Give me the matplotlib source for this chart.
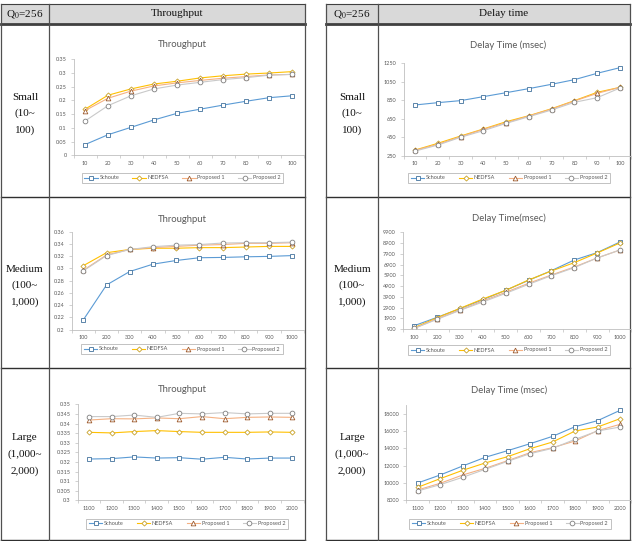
import numpy as np
import matplotlib
matplotlib.use('Agg')
from matplotlib import pyplot as plt
from matplotlib.patches import Rectangle
from matplotlib.ticker import FuncFormatter

plt.rcParams['mathtext.fontset'] = 'stix'

# ---- data ----
series_names = ['Schoute', 'NEDFSA', 'Proposed 1', 'Proposed 2']

small_x = [10, 20, 30, 40, 50, 60, 70, 80, 90, 100]
medium_x = [100, 200, 300, 400, 500, 600, 700, 800, 900, 1000]
large_x = [1100, 1200, 1300, 1400, 1500, 1600, 1700, 1800, 1900, 2000]

small_tp_schoute = [0.039, 0.075, 0.102, 0.129, 0.153, 0.168, 0.183, 0.197, 0.210, 0.217]
small_tp_nedfsa = [0.168, 0.219, 0.242, 0.260, 0.270, 0.282, 0.290, 0.296, 0.300, 0.305]
small_tp_prop1 = [0.163, 0.208, 0.234, 0.253, 0.264, 0.273, 0.281, 0.287, 0.293, 0.295]
small_tp_prop2 = [0.125, 0.181, 0.217, 0.242, 0.256, 0.266, 0.276, 0.283, 0.292, 0.295]

small_dt_schoute = [799, 824, 846, 889, 932, 976, 1023, 1073, 1142, 1203]
small_dt_nedfsa = [311, 384, 463, 539, 618, 683, 759, 846, 936, 990]
small_dt_prop1 = [308, 373, 456, 535, 607, 680, 755, 842, 925, 990]
small_dt_prop2 = [300, 365, 449, 521, 600, 672, 745, 828, 878, 983]

medium_tp_schoute = [0.216, 0.273, 0.295, 0.307, 0.313, 0.3175, 0.318, 0.319, 0.3197, 0.321]
medium_tp_nedfsa = [0.3045, 0.3257, 0.331, 0.333, 0.333, 0.334, 0.334, 0.335, 0.336, 0.336]
medium_tp_prop1 = [0.297, 0.322, 0.331, 0.334, 0.336, 0.338, 0.339, 0.341, 0.341, 0.342]
medium_tp_prop2 = [0.296, 0.321, 0.331, 0.3355, 0.338, 0.339, 0.3415, 0.342, 0.342, 0.343]

medium_dt_schoute = [1210, 1986, 2793, 3631, 4500, 5431, 6331, 7324, 8007, 9000]
medium_dt_nedfsa = [1024, 1955, 2824, 3693, 4500, 5462, 6300, 7076, 7976, 8907]
medium_dt_prop1 = [962, 1862, 2669, 3507, 4314, 5152, 5928, 6672, 7510, 8255]
medium_dt_prop2 = [962, 1800, 2638, 3414, 4221, 5059, 5866, 6610, 7510, 8255]

large_tp_schoute = [0.3215, 0.3217, 0.3226, 0.3220, 0.3222, 0.3214, 0.3224, 0.3215, 0.3220, 0.3220]
large_tp_nedfsa = [0.3354, 0.3351, 0.3358, 0.3363, 0.3358, 0.3354, 0.3354, 0.3354, 0.3356, 0.3354]
large_tp_prop1 = [0.3418, 0.3425, 0.3424, 0.3429, 0.3425, 0.3436, 0.3425, 0.3432, 0.3434, 0.3432]
large_tp_prop2 = [0.3436, 0.3436, 0.3444, 0.3432, 0.3453, 0.3450, 0.3457, 0.3450, 0.3453, 0.3453]

large_dt_schoute = [10000, 10923, 11962, 12962, 13731, 14538, 15385, 16500, 17192, 18385]
large_dt_nedfsa = [9500, 10500, 11462, 12308, 13038, 13962, 14731, 16000, 16462, 17423]
large_dt_prop1 = [9192, 9962, 10923, 11692, 12577, 13500, 14077, 14846, 16038, 16769]
large_dt_prop2 = [9077, 9808, 10654, 11577, 12500, 13385, 14000, 15038, 16000, 16462]

# ---- styles ----
line_colors = ['#5B9BD5', '#FFC000', '#F4B183', '#C9C9C9']
edge_colors = ['#41719C', '#C9A227', '#9E5B2E', '#7F7F7F']
markers = ['s', 'D', '^', 'o']
msizes = [3.2, 2.6, 3.4, 3.4]
gray_txt = '#595959'
chart_font = 'Lato'
serif = 'Liberation Serif'

W, H = 632, 541
fig = plt.figure(figsize=(W / 100, H / 100), dpi=100)

# ---- table background ----
bg = fig.add_axes([0, 0, 1, 1])
bg.set_xlim(0, W)
bg.set_ylim(H, 0)
bg.axis('off')

row_top, head_bot = 4, 23.5
row_lines = [197, 368, 540]
for (tl, tdiv, tr) in [(1, 49, 305), (326, 378, 630)]:
    bg.add_patch(Rectangle((tl, row_top), tr - tl, head_bot - row_top,
                           facecolor='#D9D9D9', edgecolor='none'))
    bg.plot([tl, tr], [row_top, row_top], color='#404040', lw=0.8)
    bg.plot([tl, tr], [head_bot, head_bot], color='#404040', lw=2.0)
    for y in row_lines:
        bg.plot([tl, tr], [y, y], color='#303030', lw=1.0)
    for x in (tl, tdiv, tr):
        bg.plot([x, x], [row_top, row_lines[-1]], color='#505050', lw=0.9)

    cx = (tl + tdiv) / 2
    bg.text(cx, 14, r'Q$_0$=256', ha='center', va='center',
            fontsize=8, family=serif, color='#111111')
    row_labels = [('Small', '(10~', '100)', 97),
                  ('Medium', '(100~', '1,000)', 269),
                  ('Large', '(1,000~', '2,000)', 438)]
    for a, b, c, y0 in row_labels:
        for k, s in enumerate((a, b, c)):
            bg.text(cx, y0 + 16.5 * k, s, ha='center', va='center',
                    fontsize=8, family=serif, color='#111111')

bg.text((49 + 305) / 2, 14, 'Throughput', ha='center', va='center',
        fontsize=8, family=serif, color='#111111')
bg.text((378 + 630) / 2, 14, 'Delay time', ha='center', va='center',
        fontsize=8, family=serif, color='#111111')


def draw_chart(x_labels, ys, title, yticks, px, title_pos, leg_pos, ymax=None):
    # px: pixel x of first / last category, pixel y of top / bottom tick
    x0, x9, ytop, ybot = px
    if ymax is None:
        ymax = yticks[-1]
    ytop = ybot - (ymax - yticks[0]) / (yticks[-1] - yticks[0]) * (ybot - ytop)
    s = (x9 - x0) / (len(x_labels) - 1)
    left, right = x0 - s / 2, x9 + s / 2
    ax = fig.add_axes([left / W, 1 - ybot / H, (right - left) / W, (ybot - ytop) / H])
    ax.set_facecolor('none')
    idx = np.arange(len(x_labels))
    handles = []
    for k, y in enumerate(ys):
        h, = ax.plot(idx, y, color=line_colors[k], lw=0.8, marker=markers[k],
                     ms=msizes[k], mfc='white', mec=edge_colors[k], mew=0.6)
        handles.append(h)
    ax.set_xlim(-0.5, len(x_labels) - 0.5)
    ax.set_ylim(yticks[0], ymax)
    ax.set_xticks(idx)
    ax.set_xticklabels([str(v) for v in x_labels])
    ax.set_xticks(np.arange(-0.5, len(x_labels), 1), minor=True)
    ax.set_yticks(yticks)
    ax.yaxis.set_major_formatter(FuncFormatter(lambda v, p: f'{v:g}'))
    ax.tick_params(axis='x', which='major', length=0, pad=4)
    ax.tick_params(axis='x', which='minor', length=2, width=0.5, color='#BFBFBF')
    ax.tick_params(axis='y', length=2, width=0.5, color='#BFBFBF', pad=3)
    ax.tick_params(labelsize=4, labelcolor=gray_txt)
    for lab in ax.get_xticklabels() + ax.get_yticklabels():
        lab.set_family(chart_font)
    for side in ('top', 'right'):
        ax.spines[side].set_visible(False)
    for side in ('left', 'bottom'):
        ax.spines[side].set_color('#BFBFBF')
        ax.spines[side].set_linewidth(0.6)
    fig.text(title_pos[0] / W, 1 - title_pos[1] / H, title, ha='center', va='center',
             fontsize=6.8, family=chart_font, color=gray_txt)
    leg = fig.legend(handles, series_names, loc='center', ncol=4,
                     bbox_to_anchor=(leg_pos[0] / W, 1 - leg_pos[1] / H),
                     prop={'family': chart_font, 'size': 4}, frameon=True,
                     fancybox=False, edgecolor='#A6A6A6', handlelength=2.4,
                     columnspacing=2.4, handletextpad=0.3, borderpad=0.45)
    leg.get_frame().set_linewidth(0.6)
    for t in leg.get_texts():
        t.set_color(gray_txt)
    return ax


draw_chart(small_x, [small_tp_schoute, small_tp_nedfsa, small_tp_prop1, small_tp_prop2],
           'Throughput', np.arange(0, 0.351, 0.05),
           (85, 292, 59.3, 155.3), (182, 45), (182.5, 178))
draw_chart(small_x, [small_dt_schoute, small_dt_nedfsa, small_dt_prop1, small_dt_prop2],
           'Delay Time (msec)', np.arange(250, 1251, 200),
           (415, 620, 63.3, 155.7), (508, 45), (509, 178))
draw_chart(medium_x, [medium_tp_schoute, medium_tp_nedfsa, medium_tp_prop1, medium_tp_prop2],
           'Throughput', np.arange(0.2, 0.3601, 0.02),
           (83.3, 292.3, 231.7, 329.7), (182, 219), (182, 349))
draw_chart(medium_x, [medium_dt_schoute, medium_dt_nedfsa, medium_dt_prop1, medium_dt_prop2],
           'Delay Time(msec)', np.arange(900, 9901, 1000),
           (414.3, 620, 232.3, 329), (509, 218), (509, 350))
draw_chart(large_x, [large_tp_schoute, large_tp_nedfsa, large_tp_prop1, large_tp_prop2],
           'Throughput', np.arange(0.3, 0.35001, 0.005),
           (89, 292.3, 404.3, 500.3), (182, 390), (187, 523.5))
draw_chart(large_x, [large_dt_schoute, large_dt_nedfsa, large_dt_prop1, large_dt_prop2],
           'Delay Time (msec)', np.arange(8000, 18001, 2000),
           (417.7, 620, 413.7, 500.3), (509, 390.5), (510, 523.5), ymax=19000)

fig.savefig('out.png', dpi=100)
